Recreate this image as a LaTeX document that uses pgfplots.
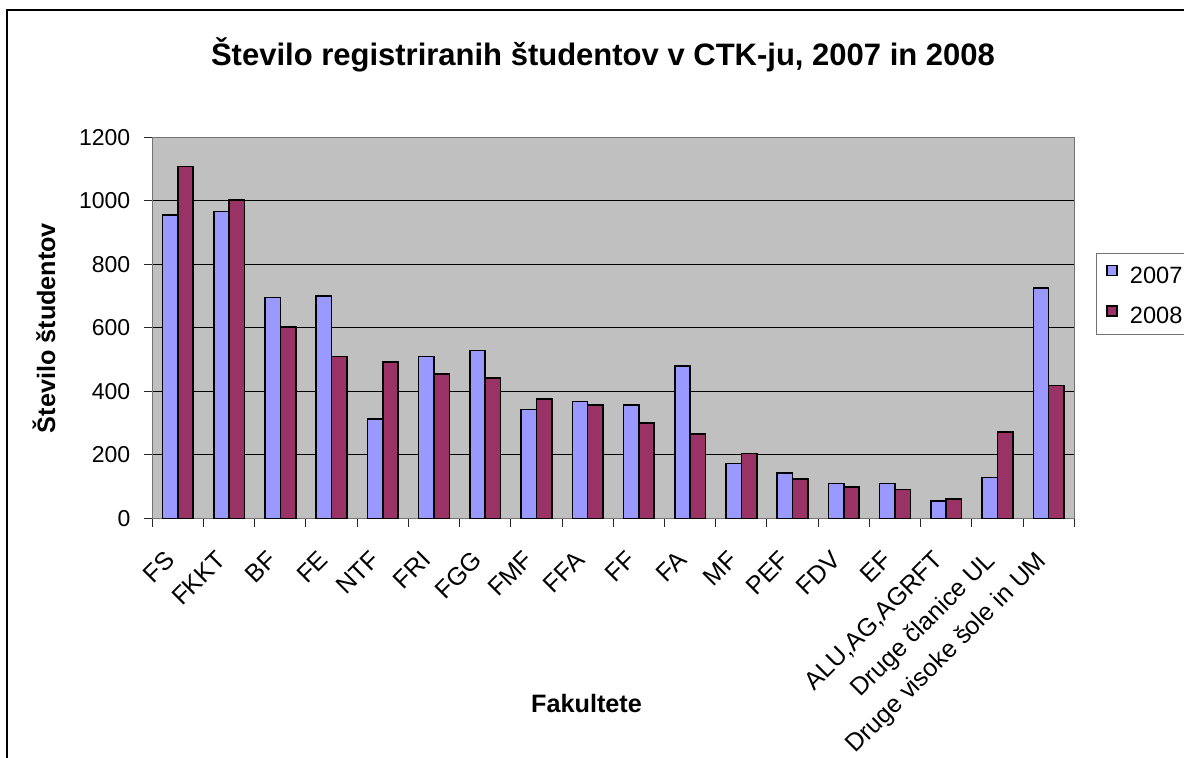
\documentclass[border=0pt]{standalone}
\usepackage{pgfplots}
\usepackage{pgfplotstable}
\pgfplotsset{compat=1.18}
\usepackage{fontspec}
\setmainfont{Liberation Sans}
\definecolor{cA}{RGB}{153,153,255}
\definecolor{cB}{RGB}{153,51,102}
\definecolor{bgc}{RGB}{192,192,192}
\pgfplotstableread{
x a b
0 955 1108
1 966 1003
2 695 602
3 701 509
4 313 492
5 509 455
6 528 442
7 343 375
8 368 356
9 356 301
10 480 265
11 172 204
12 142 123
13 110 98
14 110 91
15 55 61
16 128 271
17 726 418
}\datatable
\begin{document}
\begin{tikzpicture}
\clip (0pt,0pt) rectangle (592pt,-379pt);
\fill[white] (0pt,0pt) rectangle (592pt,-379pt);
\draw[line width=1.2pt] (3.6pt,-5pt) rectangle (610pt,-400pt);
\begin{axis}[
  at={(76.15pt,-259.15pt)}, anchor=south west,
  scale only axis, width=461pt, height=190.5pt,
  xmin=-0.5, xmax=17.5, ymin=0, ymax=1200,
  ytick={0,200,...,1200},
  xtick={-0.5,0.5,...,17.5}, xticklabels={},
  extra x ticks={0,1,...,17},
  extra x tick labels={FS,FKKT,BF,FE,NTF,FRI,FGG,FMF,FFA,FF,FA,MF,PEF,FDV,EF,{ALU,AG,AGRFT},Druge članice UL,Druge visoke šole in UM},
  extra x tick style={major tick length=0pt, grid=none,
     xticklabel style={xshift=-7pt, yshift=-15.3pt, rotate=45, anchor=north east, inner sep=0pt, font=\fontsize{12.5}{14}\selectfont}},
  tick pos=left, tick align=outside, major tick length=4.3pt,
  tick style={black!85, line width=0.5pt},
  axis line style={draw=gray!90!black, line width=0.5pt},
  axis background/.style={fill=bgc},
  ymajorgrids, major grid style={black, line width=0.45pt},
  /pgf/number format/assume math mode=true,
  /pgf/number format/1000 sep={},
  yticklabel style={inner sep=0pt, xshift=-6.5pt, font=\fontsize{11.5}{13}\selectfont},
  title={Število registriranih študentov v CTK-ju, 2007 in 2008},
  title style={at={(axis description cs:0.4888,1.156)}, anchor=base, font=\bfseries\fontsize{15.5}{18}\selectfont},
  xlabel={Fakultete},
  xlabel style={at={(axis description cs:0.471,-0.511)}, anchor=base, font=\bfseries\fontsize{12.6}{15}\selectfont},
  ylabel={Število študentov},
  ylabel style={at={(axis description cs:-0.1175,0.4995)}, anchor=center, rotate=0, font=\bfseries\fontsize{12.6}{15}\selectfont},
  legend style={at={(1.0235,0.696)}, anchor=north west, draw=gray!90!black, line width=0.5pt,
     font=\fontsize{11.8}{13}\selectfont, inner xsep=5pt, inner ysep=5.5pt, row sep=11pt,
     nodes={inner sep=0pt, text height=8.4pt, text depth=0pt}},
  legend cell align=left,
  ybar=0pt, bar width=0.3,
]
\addplot[fill=cA, draw=black, line width=0.8pt, bar shift=-0.15,
  legend image code/.code={\draw[fill=cA, draw=black, line width=0.7pt] (0pt,-0.3pt) rectangle (5pt,4.7pt); \path (11pt,0pt);}]
  table[x=x, y=a] {\datatable};
\addlegendentry{2007}
\addplot[fill=cB, draw=black, line width=0.8pt, bar shift=0.15,
  legend image code/.code={\draw[fill=cB, draw=black, line width=0.7pt] (0pt,-0.3pt) rectangle (5pt,4.7pt); \path (11pt,0pt);}]
  table[x=x, y=b] {\datatable};
\addlegendentry{2008}
\end{axis}
\end{tikzpicture}
\end{document}
